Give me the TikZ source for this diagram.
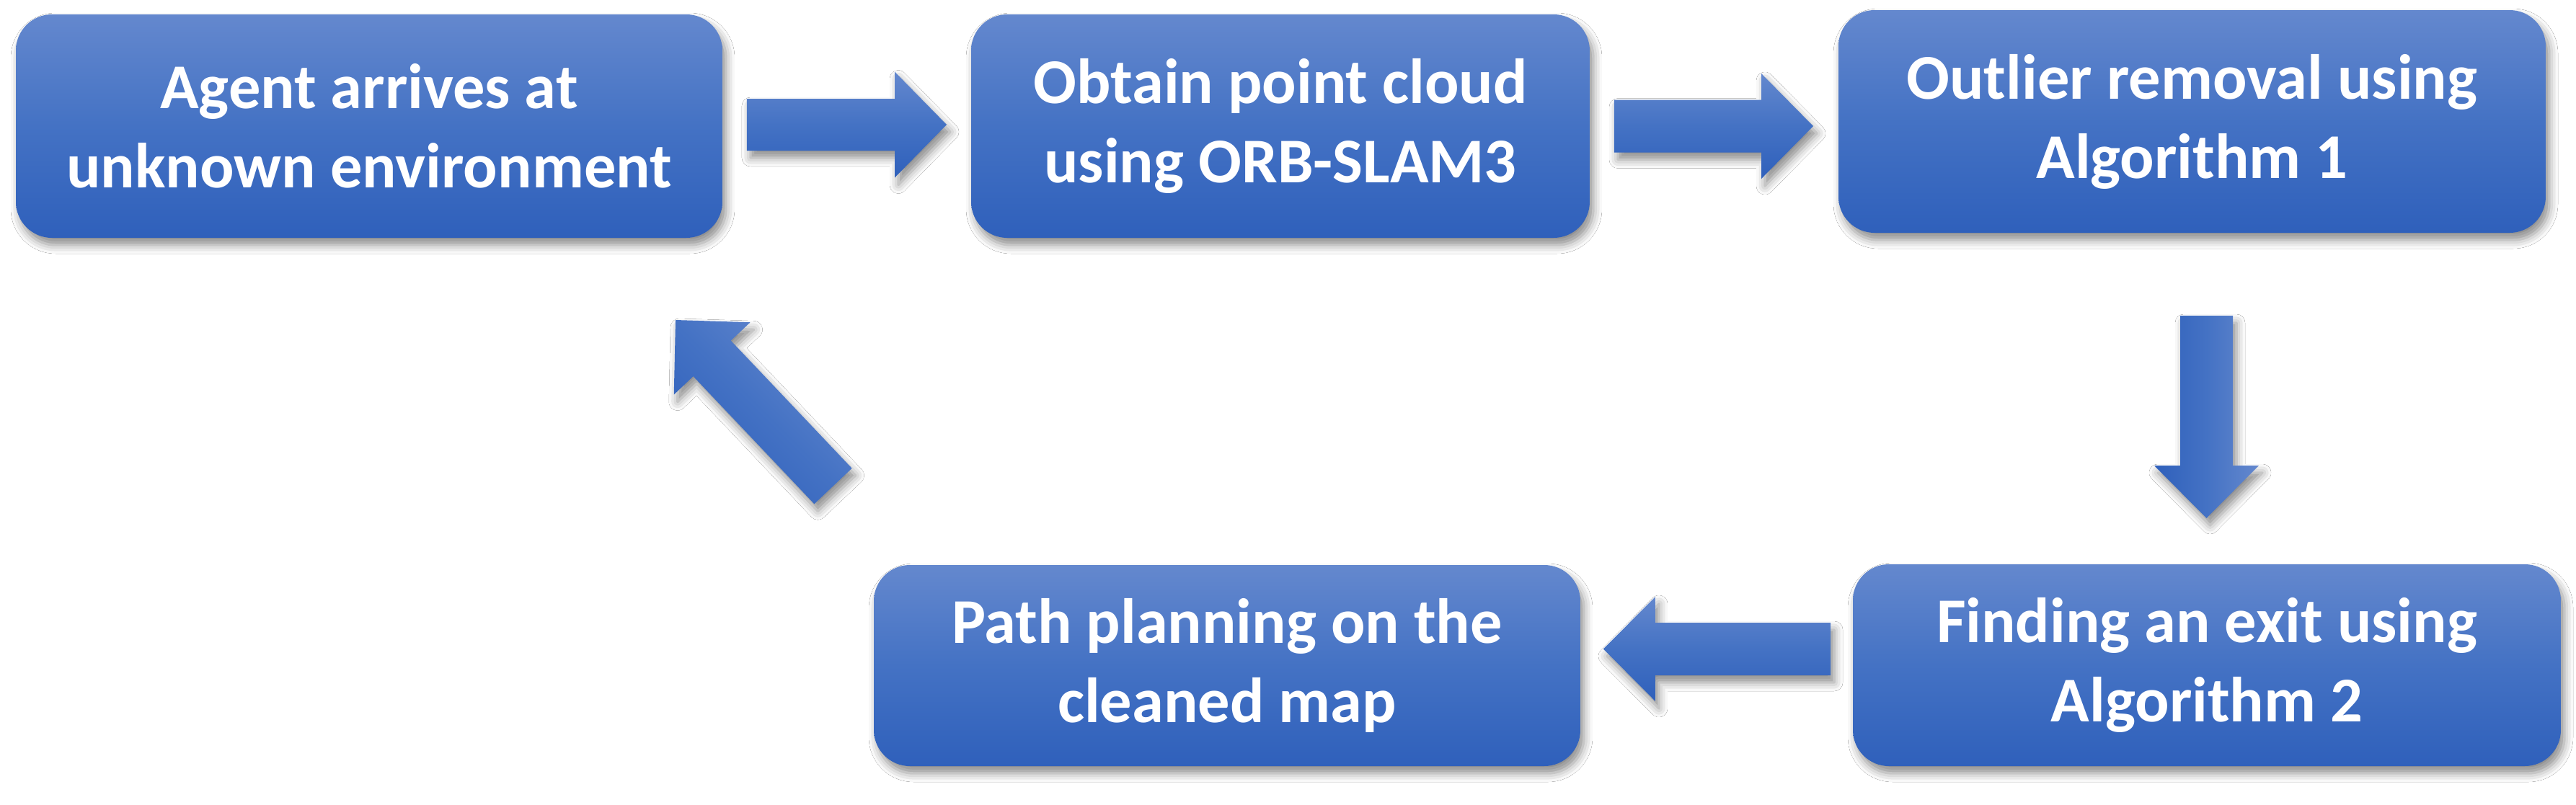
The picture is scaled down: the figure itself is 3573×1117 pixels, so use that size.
\documentclass[tikz,border=0pt]{standalone}
\usepackage{fontspec}
\setmainfont{Carlito}
\usetikzlibrary{calc,shadows.blur}
\definecolor{btop}{HTML}{6488CE}
\definecolor{bmid}{HTML}{4472C4}
\definecolor{bbot}{HTML}{2F60BB}
\tikzset{
  softshadow/.style={blur shadow={shadow xshift=0.5pt, shadow yshift=-1pt, shadow blur radius=1.2pt, shadow opacity=45}},
  stepbox/.style={rounded corners=5pt, softshadow, top color=btop, bottom color=bbot, middle color=bmid,
    text=white, font=\fontsize{8.85}{11}\selectfont\bfseries, align=center, inner sep=0pt},
  barrow/.style={softshadow, top color=btop, bottom color=bbot, middle color=bmid}
}
% #1 options, #2 start, #3 end, #4 shaft half width, #5 head half width, #6 head length
\newcommand\blockarrow[6]{%
  \coordinate (ba-h) at ($(#3)!#6!(#2)$);
  \path[barrow,#1] ($(#2)!#4!90:(#3)$) -- ($(ba-h)!#4!90:(#3)$) -- ($(ba-h)!#5!90:(#3)$) -- (#3)
    -- ($(ba-h)!#5!-90:(#3)$) -- ($(ba-h)!#4!-90:(#3)$) -- ($(#2)!#4!-90:(#3)$) -- cycle;
}
\begin{document}
\begin{tikzpicture}[x=0.1pt,y=-0.1pt]
\fill[white] (0,0) rectangle (3573,1117);
\useasboundingbox (0,0) rectangle (3573,1117);

\node[stepbox, minimum width=98pt, minimum height=31pt] (b1) at (512,175) {Agent arrives at\\unknown environment};
\node[stepbox, minimum width=85.8pt, minimum height=31pt] (b2) at (1776,175) {Obtain point cloud\\using ORB-SLAM3};
\node[stepbox, minimum width=98.1pt, minimum height=30.9pt] (b3) at (3040.5,168.5) {Outlier removal using\\Algorithm 1};
\node[stepbox, minimum width=98.2pt, minimum height=28pt] (b4) at (3061,923) {Finding an exit using\\Algorithm 2};
\node[stepbox, minimum width=98pt, minimum height=27.9pt] (b5) at (1702,923.5) {Path planning on the\\cleaned map};

% arrow 1: b1 -> b2
\coordinate (a1s) at ($(b1.east)+(32,-2)$);
\coordinate (a1e) at ($(b2.west)+(-32,-2)$);
\blockarrow{}{a1s}{a1e}{3.6pt}{7.35pt}{7.2pt}
% arrow 2: b2 -> b3
\coordinate (a2s) at ($(b2.east)+(32,0)$);
\coordinate (a2e) at ($(b3.west)+(-33,6.5)$);
\blockarrow{}{a2s}{a2e}{3.65pt}{7.3pt}{7.2pt}
% arrow 3: b3 -> b4
\coordinate (a3s) at ($(b3.south)+(20,113)$);
\coordinate (a3e) at ($(b3.south)+(20,394)$);
\blockarrow{shading angle=-90}{a3s}{a3e}{3.65pt}{7.25pt}{7.3pt}
% arrow 4: b4 -> b5
\coordinate (a4s) at ($(b4.west)+(-29,-22.5)$);
\coordinate (a4e) at ($(b5.east)+(30,-23)$);
\blockarrow{}{a4s}{a4e}{3.65pt}{7.25pt}{7.2pt}
% arrow 5: b5 -> b1
\coordinate (a5s) at ($(b5.north west)+(-54.5,-107.5)$);
\coordinate (a5e) at ($(b1.south west)+(917,112)$);
\blockarrow{shading angle=-45}{a5s}{a5e}{3.6pt}{7.29pt}{7.36pt}
\end{tikzpicture}
\end{document}
